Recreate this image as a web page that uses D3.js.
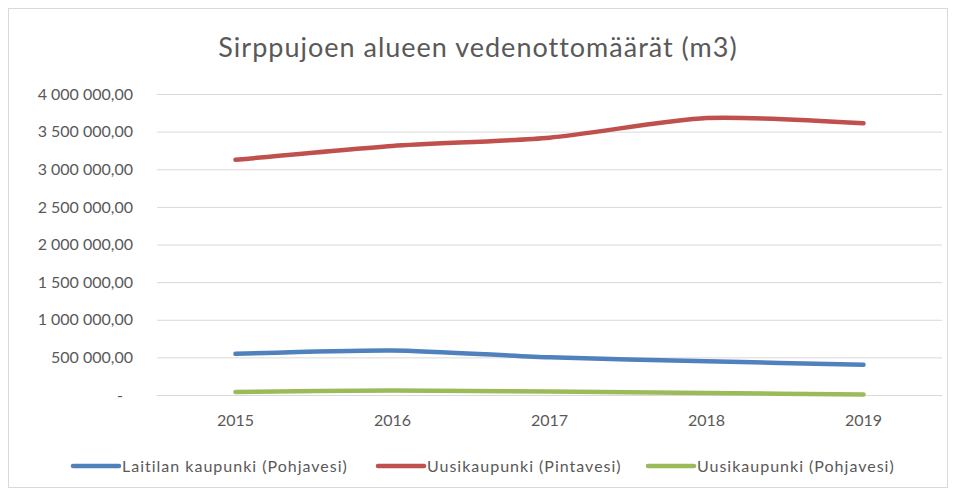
<!DOCTYPE html>
<html>
<head>
<meta charset="utf-8">
<script src="https://cdn.jsdelivr.net/npm/d3@7"></script>
<style>
  body { margin: 0; background: #fff; }
  text { font-family: Lato, "Open Sans", sans-serif; fill: #595959; }
</style>
</head>
<body>
<div id="graph"></div>
<script>
// data
var years = ["2015", "2016", "2017", "2018", "2019"];
var seriesNames = ["Laitilan kaupunki (Pohjavesi)", "Uusikaupunki (Pintavesi)", "Uusikaupunki (Pohjavesi)"];
var laitilaPohjavesi = [547000, 592000, 501000, 447000, 403000];
var uusikaupunkiPintavesi = [3125000, 3310000, 3420000, 3680000, 3610000];
var uusikaupunkiPohjavesi = [40000, 60000, 45000, 25000, 8000];
var yTicks = [0, 500000, 1000000, 1500000, 2000000, 2500000, 3000000, 3500000, 4000000];
var colors = ["#4F81BD", "#C0504D", "#9BBB59"];

var series = [laitilaPohjavesi, uusikaupunkiPintavesi, uusikaupunkiPohjavesi];

var width = 955, height = 495;
var margin = {top: 94, right: 13, bottom: 100, left: 157};
var plotW = width - margin.left - margin.right,
    plotH = height - margin.top - margin.bottom;

var fi = d3.formatLocale({decimal: ",", thousands: "\u00a0", grouping: [3], currency: ["", " €"]});
var fmt = fi.format(",.2f");

var x = d3.scaleBand().domain(years).range([0, plotW]);
var y = d3.scaleLinear().domain([0, 4000000]).range([plotH, 0]);

var svg = d3.select("#graph")
  .append("svg")
  .attr("width", width)
  .attr("height", height);

// chart frame
svg.append("rect")
  .attr("x", 8.5).attr("y", 8.5)
  .attr("width", 939).attr("height", 479)
  .attr("fill", "none")
  .attr("stroke", "#d9d9d9");

svg.append("text")
  .attr("x", 478)
  .attr("y", 57)
  .attr("text-anchor", "middle")
  .style("font-size", "27px")
  .style("letter-spacing", "1px")
  .text("Sirppujoen alueen vedenottomäärät (m3)");

var g = svg.append("g")
  .attr("transform", "translate(" + margin.left + "," + margin.top + ")");

// y axis with gridlines
var yAxis = d3.axisLeft(y)
  .tickValues(yTicks)
  .tickSize(-plotW)
  .tickPadding(24)
  .tickFormat(function (d) { return d === 0 ? "-" : fmt(d); });

g.append("g")
  .attr("class", "y axis")
  .call(yAxis)
  .call(function (sel) {
    sel.select(".domain").remove();
    sel.selectAll(".tick line").attr("stroke", "#d9d9d9");
    sel.selectAll(".tick text").style("font-size", "16px").attr("fill", "#595959");
    sel.selectAll(".tick text").filter(function (d) { return d === 0; }).attr("dx", "-10");
  });

// x axis labels
var xAxis = d3.axisBottom(x).tickSize(0).tickPadding(20);
g.append("g")
  .attr("class", "x axis")
  .attr("transform", "translate(0," + plotH + ")")
  .call(xAxis)
  .call(function (sel) {
    sel.select(".domain").remove();
    sel.selectAll(".tick text").style("font-size", "16px").attr("fill", "#595959");
  });

var line = d3.line()
  .x(function (d, i) { return x(years[i]) + x.bandwidth() / 2; })
  .y(function (d) { return y(d); })
  .curve(d3.curveCardinal.tension(0.3));

g.selectAll("path.series")
  .data(series)
  .enter()
  .append("path")
  .attr("class", "series")
  .attr("d", line)
  .attr("fill", "none")
  .attr("stroke", function (d, i) { return colors[i]; })
  .attr("stroke-width", 4.5)
  .attr("stroke-linecap", "round");

// legend
var legendX = [73, 378, 648];
var legend = svg.selectAll("g.legend")
  .data(seriesNames)
  .enter()
  .append("g")
  .attr("class", "legend")
  .attr("transform", function (d, i) { return "translate(" + legendX[i] + ",466)"; });

legend.append("line")
  .attr("x1", 0).attr("x2", 46)
  .attr("y1", 0).attr("y2", 0)
  .attr("stroke", function (d, i) { return colors[i]; })
  .attr("stroke-width", 4.5)
  .attr("stroke-linecap", "round");

legend.append("text")
  .attr("x", 49)
  .attr("y", 6)
  .style("font-size", "16px")
  .style("letter-spacing", "1px")
  .text(function (d) { return d; });
</script>
</body>
</html>
